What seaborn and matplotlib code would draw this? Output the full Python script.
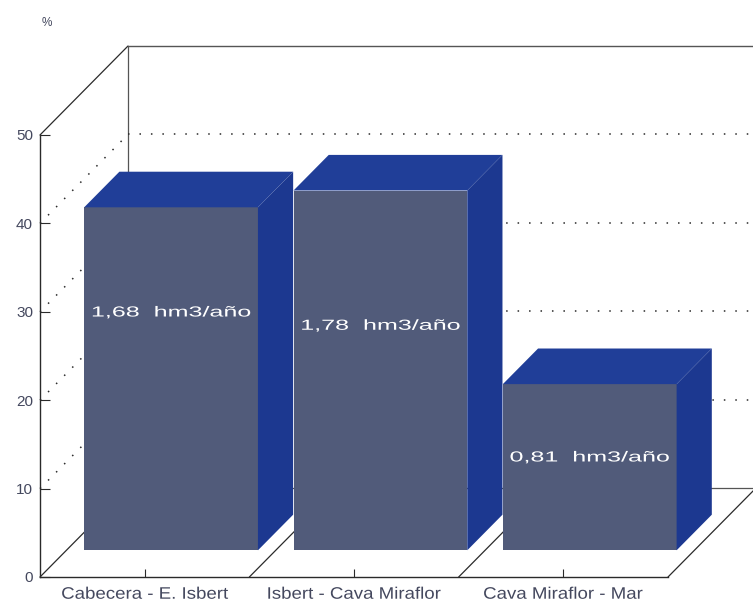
import numpy as np
import pandas as pd
import matplotlib
matplotlib.use("Agg")
import matplotlib.pyplot as plt
import matplotlib.transforms as mtransforms
from matplotlib.patches import Polygon
from matplotlib.patheffects import AbstractPathEffect
import seaborn as sns

# --- data -------------------------------------------------------------
tramos = ["Cabecera - E. Isbert", "Isbert - Cava Miraflor", "Cava Miraflor - Mar"]
porcentaje = [38.8, 40.7, 18.8]
caudal = ["1,68  hm3/año", "1,78  hm3/año", "0,81  hm3/año"]
yticks = [0, 10, 20, 30, 40, 50]

# --- style ------------------------------------------------------------
FRONT = "#515b7a"
TOP = "#203e98"
SIDE = "#1c3890"
LINE = "#2a2a2a"
TEXT = "#44485e"

# depth of the box (pixels) and the slab occupied by the bars
DEPTH_PX = (88, 89)
BAR_FRONT, BAR_BACK = 0.30, 0.70
BAR_WIDTH = 0.83
LABEL_LEVEL = [26.9, 25.4, 10.5]   # height of the white captions on each bar


class Stretch(AbstractPathEffect):
    """Widen a text line horizontally about its own centre."""

    def __init__(self, sx):
        super().__init__()
        self.sx = sx

    def draw_path(self, renderer, gc, tpath, affine, rgbFace=None):
        v = tpath.vertices
        cx = 0.5 * (v[:, 0].min() + v[:, 0].max()) if len(v) else 0.0
        t = (mtransforms.Affine2D().translate(-cx, 0).scale(self.sx, 1)
             .translate(cx, 0) + affine)
        renderer.draw_path(gc, tpath, t, rgbFace)


sns.set_theme(style="white")
plt.rcParams["font.family"] = ["Liberation Sans", "DejaVu Sans"]

fig = plt.figure(figsize=(7.53, 6.02), dpi=100)
fig.patch.set_facecolor("white")
ax = fig.add_axes([40 / 753, 25 / 602, 628 / 753, 442 / 602])
ax.set_facecolor("none")

df = pd.DataFrame({"tramo": tramos, "pct": porcentaje})
sns.barplot(data=df, x="tramo", y="pct", color=FRONT, saturation=1,
            width=BAR_WIDTH, edgecolor="none", ax=ax, zorder=4)

ax.set_xlim(-0.5, 2.5)
ax.set_ylim(0, 50)

# pixel depth expressed in data units
inv = ax.transData.inverted()
o = ax.transData.transform((0, 0))
ddx, ddy = inv.transform(o + np.array(DEPTH_PX)) - inv.transform(o)

x_lo, x_hi = -0.5, 2.5
line_kw = dict(color=LINE, lw=0.9, clip_on=False, zorder=1)
dot_kw = dict(color=LINE, lw=1.1, ls=(0, (1, 6.5)), clip_on=False, zorder=1)

# back wall, left wall and floor edges
ax.plot([x_lo, x_lo + ddx], [50, 50 + ddy], **line_kw)
ax.plot([x_lo + ddx, x_hi + ddx], [50 + ddy, 50 + ddy], color="#555555",
        lw=1.0, clip_on=False, zorder=1)
ax.plot([x_lo + ddx, x_lo + ddx], [ddy, 50 + ddy], color="#555555", lw=0.9,
        clip_on=False, zorder=1)
ax.plot([x_lo + ddx, x_hi + ddx], [ddy, ddy], color="#555555", lw=0.9,
        clip_on=False, zorder=1)
for xb in [x_lo, 0.5, 1.5, x_hi]:
    ax.plot([xb, xb + ddx], [0, ddy], **line_kw)

# dotted grid on the side and back walls
for v in yticks[1:-1]:
    ax.plot([x_lo, x_lo + ddx], [v, v + ddy], **dot_kw)
    ax.plot([x_lo + ddx, x_hi + ddx], [v + ddy, v + ddy], **dot_kw)

# 3-D bars: shift the seaborn rectangles into the slab and add top/side faces
f1x, f1y = BAR_FRONT * ddx, BAR_FRONT * ddy
f2x, f2y = BAR_BACK * ddx, BAR_BACK * ddy
for p, lab, ly in zip(ax.patches, caudal, LABEL_LEVEL):
    x0, w, h = p.get_x(), p.get_width(), p.get_height()
    p.set_x(x0 + f1x)
    p.set_y(f1y)
    p.set_clip_on(False)
    top = Polygon([(x0 + f1x, h + f1y), (x0 + w + f1x, h + f1y),
                   (x0 + w + f2x, h + f2y), (x0 + f2x, h + f2y)],
                  closed=True, facecolor=TOP, edgecolor="none",
                  clip_on=False, zorder=4)
    side = Polygon([(x0 + w + f1x, f1y), (x0 + w + f2x, f2y),
                    (x0 + w + f2x, h + f2y), (x0 + w + f1x, h + f1y)],
                   closed=True, facecolor=SIDE, edgecolor="none",
                   clip_on=False, zorder=4)
    ax.add_patch(top)
    ax.add_patch(side)
    ax.text(x0 + w / 2 + f1x, ly + f1y, lab, ha="center", va="center",
            color="white", fontsize=10.5, zorder=6,
            path_effects=[Stretch(1.72)])

# axes frame
for s in ["top", "right"]:
    ax.spines[s].set_visible(False)
for s in ["left", "bottom"]:
    ax.spines[s].set_color(LINE)
    ax.spines[s].set_linewidth(1.0)

ax.set_yticks(yticks)
ax.set_yticklabels([str(t) for t in yticks])
ax.set_xlabel("")
ax.set_ylabel("")
ax.tick_params(axis="y", left=True, direction="in", length=7, width=0.8,
               color=LINE, labelsize=11, labelcolor=TEXT, pad=5)
ax.tick_params(axis="x", bottom=True, direction="in", length=6, width=0.8,
               color=LINE, labelsize=12, labelcolor=TEXT, pad=7)
for t in ax.get_xticklabels():
    t.set_path_effects([Stretch(1.12)])

fig.text(47 / 753, 1 - 23 / 602, "%", ha="center", va="center",
         fontsize=8.5, color=TEXT)

fig.savefig("out.png", dpi=100, facecolor="white")
